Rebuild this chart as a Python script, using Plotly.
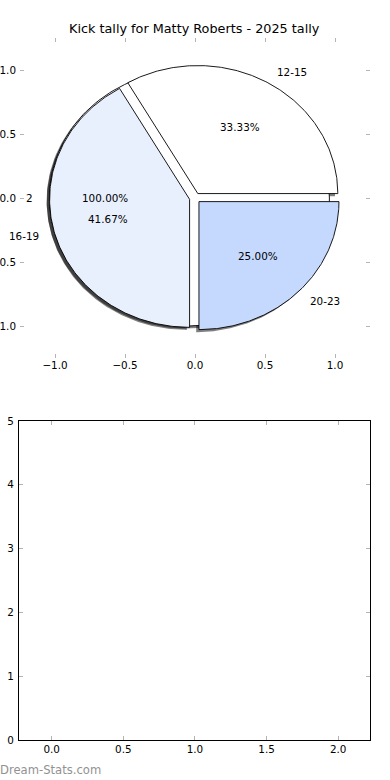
import numpy as np
import plotly.graph_objects as go

# ---- data ----
title = "Kick tally for Matty Roberts - 2025 tally"
categories = ["12-15", "16-19", "20-23"]
kick_counts = [4, 5, 3]
slice_colors = ["#ffffff", "#e9f0fd", "#c5d9fe"]
base_labels = ["2"]
base_counts = [1]
base_colors = ["#ffffff"]
watermark = "Dream-Stats.com"
pie_ticks = [-1.0, -0.5, 0.0, 0.5, 1.0]
bar_x_ticks = [0.0, 0.5, 1.0, 1.5, 2.0]
bar_y_ticks = [0, 1, 2, 3, 4, 5]

EXPLODE = 0.04
SHADOW = 0.02
W, H = 390, 780
FONT = "DejaVu Sans"
FS = 10.4

fig = go.Figure()


def pie_geometry(values, labels):
    vals = np.asarray(values, dtype=float)
    fr = vals / vals.sum()
    out = []
    t1 = 0.0
    for f, lab in zip(fr, labels):
        t2 = t1 + f
        tm = np.pi * (t1 + t2)
        cx, cy = EXPLODE * np.cos(tm), EXPLODE * np.sin(tm)
        full = f >= 0.999999
        ang = np.linspace(2 * np.pi * t1, 2 * np.pi * t2, 200)
        xs = cx + np.cos(ang)
        ys = cy + np.sin(ang)
        if not full:
            xs = np.concatenate([[cx], xs, [cx]])
            ys = np.concatenate([[cy], ys, [cy]])
        out.append(dict(xs=xs, ys=ys, cx=cx, cy=cy, tm=tm, frac=f, label=lab))
        t1 = t2
    return out


base = pie_geometry(base_counts, base_labels)
main = pie_geometry(kick_counts, categories)

# shadows first
for w in base + main:
    fig.add_trace(go.Scatter(x=w["xs"] - SHADOW, y=w["ys"] - SHADOW, mode="lines",
                             fill="toself", fillcolor="rgba(0,0,0,0.5)",
                             line=dict(width=0), hoverinfo="skip", showlegend=False,
                             xaxis="x", yaxis="y"))
# wedges
for w, c in list(zip(base, base_colors)) + list(zip(main, slice_colors)):
    fig.add_trace(go.Scatter(x=w["xs"], y=w["ys"], mode="lines",
                             fill="toself", fillcolor=c,
                             line=dict(width=0.9, color="black"), hoverinfo="skip",
                             showlegend=False, xaxis="x", yaxis="y"))

annotations = []
for w in base + main:
    lx = w["cx"] + 1.1 * np.cos(w["tm"])
    ly = w["cy"] + 1.1 * np.sin(w["tm"])
    annotations.append(dict(x=lx, y=ly, xref="x", yref="y", text=w["label"],
                            showarrow=False, xanchor="left" if lx > 0 else "right",
                            yanchor="middle", font=dict(family=FONT, size=FS, color="black")))
    px = w["cx"] + 0.6 * np.cos(w["tm"])
    py = w["cy"] + 0.6 * np.sin(w["tm"])
    annotations.append(dict(x=px, y=py, xref="x", yref="y", text=f"{w['frac']*100:.2f}%",
                            showarrow=False, xanchor="center", yanchor="middle",
                            font=dict(family=FONT, size=FS, color="black")))

annotations.append(dict(x=194.5 / W, y=1 - 29 / H, xref="paper", yref="paper", text=title,
                        showarrow=False, xanchor="center", yanchor="middle",
                        font=dict(family=FONT, size=12.8, color="black")))
annotations.append(dict(x=-0.004, y=1 - 770 / H, xref="paper", yref="paper", text=watermark,
                        showarrow=False, xanchor="left", yanchor="middle",
                        font=dict(family=FONT, size=11.6, color="#929292")))

# dummy trace for bottom axes
fig.add_trace(go.Scatter(x=[None], y=[None], xaxis="x2", yaxis="y2", showlegend=False,
                         hoverinfo="skip"))

tick_common = dict(ticks="inside", ticklen=4, tickwidth=1, tickcolor="#b4b4b4",
                   tickfont=dict(family=FONT, size=FS, color="black"), showgrid=False,
                   zeroline=False, automargin=False)

fig.update_layout(
    width=W, height=H, margin=dict(l=0, r=0, t=0, b=0, autoexpand=False),
    paper_bgcolor="white", plot_bgcolor="rgba(0,0,0,0)",
    showlegend=False,
    annotations=annotations,
    xaxis=dict(domain=[20 / W, 370 / W], range=[-1.25, 1.25], tickvals=pie_ticks,
               tickformat=".1f", showline=False, mirror="ticks", anchor="y", **tick_common),
    yaxis=dict(domain=[1 - 358 / H, 1 - 38 / H], range=[-1.25, 1.25], tickvals=pie_ticks,
               tickformat=".1f", showline=False, mirror="ticks", anchor="x",
               ticklabelstandoff=3, **tick_common),
    xaxis2=dict(domain=[19 / W, 370 / W], range=[-0.228, 2.222], tickvals=bar_x_ticks,
                tickformat=".1f", showline=True, linecolor="black", linewidth=1,
                mirror="ticks", anchor="y2", **tick_common),
    yaxis2=dict(domain=[1 - 740 / H, 1 - 421 / H], range=[0, 5], tickvals=bar_y_ticks,
                showline=True, linecolor="black", linewidth=1,
                mirror="ticks", anchor="x2", ticklabelstandoff=2, **tick_common),
)

fig.write_html("out.html", config={"displayModeBar": False},
               post_script="document.body.style.margin='0';document.body.style.overflow='hidden';")
